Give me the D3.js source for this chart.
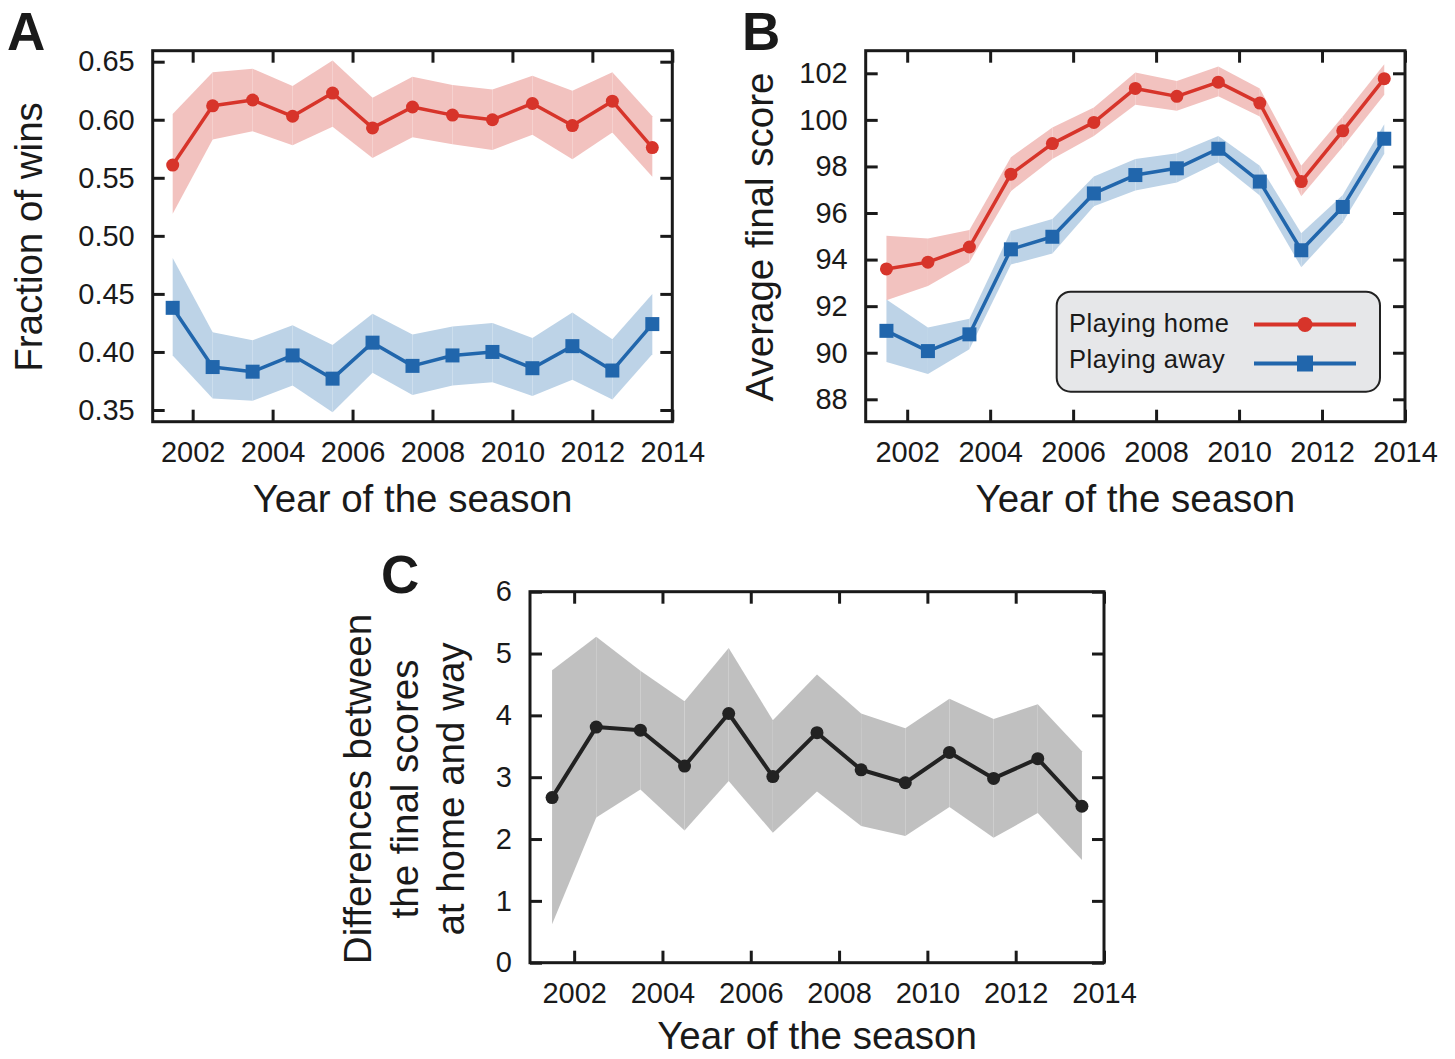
<!DOCTYPE html>
<html>
<head>
<meta charset="utf-8">
<script src="https://cdn.jsdelivr.net/npm/d3@7"></script>
<style>
  html, body { margin: 0; padding: 0; background: #ffffff; }
  svg { display: block; }
  text { font-family: "Liberation Sans", Arial, Helvetica, sans-serif; fill: #1a1a1a; }
</style>
</head>
<body>
<svg id="chart" width="1455" height="1059"></svg>
<script>
// ---------------- data ----------------
const seasons = [2001.5, 2002.5, 2003.5, 2004.5, 2005.5, 2006.5, 2007.5, 2008.5, 2009.5, 2010.5, 2011.5, 2012.5, 2013.5];
const xTickValues = [2002, 2004, 2006, 2008, 2010, 2012, 2014];

// Panel A: fraction of wins
const winsHome      = [0.561, 0.612, 0.617, 0.603, 0.623, 0.593, 0.611, 0.604, 0.600, 0.614, 0.595, 0.616, 0.576];
const winsHomeHigh  = [0.605, 0.641, 0.644, 0.629, 0.651, 0.619, 0.637, 0.630, 0.626, 0.638, 0.625, 0.641, 0.603];
const winsHomeLow   = [0.519, 0.583, 0.590, 0.578, 0.594, 0.567, 0.585, 0.579, 0.574, 0.587, 0.566, 0.589, 0.551];
const winsAway      = [0.438, 0.387, 0.383, 0.397, 0.377, 0.408, 0.388, 0.397, 0.400, 0.386, 0.405, 0.384, 0.424];
const winsAwayHigh  = [0.481, 0.417, 0.410, 0.423, 0.406, 0.433, 0.415, 0.422, 0.425, 0.412, 0.434, 0.411, 0.450];
const winsAwayLow   = [0.397, 0.360, 0.358, 0.371, 0.348, 0.382, 0.363, 0.371, 0.374, 0.362, 0.376, 0.359, 0.398];
const winsTicks     = [0.35, 0.40, 0.45, 0.50, 0.55, 0.60, 0.65];

// Panel B: average final score
const scoreHome     = [93.60, 93.89, 94.54, 97.67, 98.98, 99.89, 101.35, 101.01, 101.62, 100.72, 97.35, 99.53, 101.77];
const scoreHomeHigh = [95.02, 94.91, 95.27, 98.40, 99.67, 100.53, 102.03, 101.67, 102.29, 101.35, 98.03, 100.14, 102.39];
const scoreHomeLow  = [92.25, 92.87, 93.89, 96.94, 98.32, 99.31, 100.65, 100.39, 101.01, 100.14, 96.72, 98.83, 101.08];
const scoreAway     = [90.94, 90.07, 90.79, 94.44, 94.98, 96.84, 97.63, 97.92, 98.76, 97.35, 94.40, 96.26, 99.19];
const scoreAwayHigh = [92.29, 91.08, 91.46, 95.23, 95.74, 97.57, 98.32, 98.57, 99.31, 98.03, 95.13, 96.77, 99.81];
const scoreAwayLow  = [89.60, 89.09, 90.15, 93.79, 94.26, 96.29, 96.97, 97.31, 98.18, 96.75, 93.67, 95.60, 98.54];
const scoreTicks    = [88, 90, 92, 94, 96, 98, 100, 102];

// Panel C: difference home - away
const diff      = [2.67, 3.81, 3.76, 3.18, 4.03, 3.01, 3.72, 3.12, 2.91, 3.40, 2.98, 3.30, 2.53];
const diffHigh  = [4.73, 5.27, 4.72, 4.23, 5.09, 3.92, 4.66, 4.03, 3.79, 4.27, 3.94, 4.18, 3.42];
const diffLow   = [0.62, 2.35, 2.80, 2.14, 2.94, 2.10, 2.77, 2.21, 2.05, 2.52, 2.02, 2.42, 1.66];
const diffTicks = [0, 1, 2, 3, 4, 5, 6];

const legendLabels = ["Playing home", "Playing away"];

// ---------------- styles ----------------
const RED = "#d7342a", RED_BAND = "#f2c2bf";
const BLUE = "#2166ac", BLUE_BAND = "#bdd3e7";
const DARK = "#222222", GRAY_BAND = "#c0c0c0";
const INK = "#1a1a1a";

const svg = d3.select("#chart");

function makePanel(cfg) {
  const g = svg.append("g");
  const x = d3.scaleLinear().domain([2001, 2014]).range([cfg.x0, cfg.x1]);
  const y = d3.scaleLinear().domain(cfg.yDomain).range(cfg.yRange);

  // bands & lines
  cfg.series.forEach(s => {
    const pts = seasons.map((yr, i) => ({ x: yr, v: s.values[i], lo: s.low[i], hi: s.high[i] }));
    const area = d3.area().x(d => x(d.x)).y0(d => y(d.lo)).y1(d => y(d.hi));
    for (let i = 0; i < pts.length - 1; i++) {
      g.append("path").attr("d", area([pts[i], pts[i + 1]]))
        .attr("fill", s.band).attr("stroke", "none");
    }
  });
  cfg.series.forEach(s => {
    const pts = seasons.map((yr, i) => ({ x: yr, v: s.values[i] }));
    g.append("path")
      .attr("d", d3.line().x(d => x(d.x)).y(d => y(d.v))(pts))
      .attr("fill", "none").attr("stroke", s.color)
      .attr("stroke-width", s.lw).attr("stroke-linejoin", "round");
    if (s.marker === "square") {
      g.selectAll(null).data(pts).enter().append("rect")
        .attr("x", d => x(d.x) - s.size / 2).attr("y", d => y(d.v) - s.size / 2)
        .attr("width", s.size).attr("height", s.size).attr("fill", s.color);
    } else {
      g.selectAll(null).data(pts).enter().append("circle")
        .attr("cx", d => x(d.x)).attr("cy", d => y(d.v)).attr("r", s.size)
        .attr("fill", s.color);
    }
  });

  const top = cfg.frameTop, bottom = cfg.frameBottom;
  const tl = 12;
  const fs = 29;

  // bottom axis
  const xb = g.append("g").attr("transform", `translate(0,${bottom})`)
    .call(d3.axisBottom(x).tickValues(xTickValues).tickFormat(d3.format("d"))
      .tickSizeInner(-tl).tickSizeOuter(0).tickPadding(20));
  // top axis
  const xt = g.append("g").attr("transform", `translate(0,${top})`)
    .call(d3.axisTop(x).tickValues(xTickValues).tickFormat("")
      .tickSizeInner(-tl).tickSizeOuter(0));
  // left axis
  const yl = g.append("g").attr("transform", `translate(${cfg.x0},0)`)
    .call(d3.axisLeft(y).tickValues(cfg.yTicks).tickFormat(d3.format(cfg.yFormat))
      .tickSizeInner(-tl).tickSizeOuter(0).tickPadding(18));
  // right axis
  const yr = g.append("g").attr("transform", `translate(${cfg.x1},0)`)
    .call(d3.axisRight(y).tickValues(cfg.yTicks).tickFormat("")
      .tickSizeInner(-tl).tickSizeOuter(0));

  [xb, xt, yl, yr].forEach(a => {
    a.select(".domain").remove();
    a.selectAll(".tick line").attr("stroke", INK).attr("stroke-width", 3);
    a.selectAll(".tick text").attr("font-size", fs)
      .attr("font-family", '"Liberation Sans", Arial, Helvetica, sans-serif')
      .attr("fill", INK);
  });

  // frame
  g.append("rect").attr("x", cfg.x0).attr("y", top)
    .attr("width", cfg.x1 - cfg.x0).attr("height", bottom - top)
    .attr("fill", "none").attr("stroke", INK).attr("stroke-width", 3);

  // x title
  g.append("text").attr("x", (cfg.x0 + cfg.x1) / 2).attr("y", bottom + cfg.xTitleOffset)
    .attr("text-anchor", "middle").attr("font-size", 38.5).text("Year of the season");

  // y title
  cfg.yTitle.forEach((line, i) => {
    g.append("text")
      .attr("transform", `translate(${cfg.yTitleX[i]},${cfg.yTitleY}) rotate(-90)`)
      .attr("text-anchor", "middle").attr("font-size", 38.5).text(line);
  });

  // panel letter
  g.append("text").attr("x", cfg.letterX).attr("y", cfg.letterY)
    .attr("font-size", 53).attr("font-weight", "bold").text(cfg.letter);

  return { g, x, y };
}

makePanel({
  x0: 152.7, x1: 672.3, frameTop: 50.7, frameBottom: 421.7, xTitleOffset: 90,
  yDomain: [0.35, 0.65], yRange: [410, 61.7], yTicks: winsTicks, yFormat: ".2f",
  yTitle: ["Fraction of wins"], yTitleX: [41.5], yTitleY: 237,
  letter: "A", letterX: 7, letterY: 50,
  series: [
    { values: winsHome, low: winsHomeLow, high: winsHomeHigh, color: RED, band: RED_BAND, marker: "circle", size: 6.5, lw: 3.5 },
    { values: winsAway, low: winsAwayLow, high: winsAwayHigh, color: BLUE, band: BLUE_BAND, marker: "square", size: 14, lw: 3.5 }
  ]
});

const pB = makePanel({
  x0: 865.7, x1: 1405, frameTop: 50.7, frameBottom: 421.7, xTitleOffset: 90,
  yDomain: [88, 102], yRange: [399.3, 73.3], yTicks: scoreTicks, yFormat: "d",
  yTitle: ["Average final score"], yTitleX: [773], yTitleY: 237,
  letter: "B", letterX: 742, letterY: 50,
  series: [
    { values: scoreHome, low: scoreHomeLow, high: scoreHomeHigh, color: RED, band: RED_BAND, marker: "circle", size: 6.5, lw: 3.5 },
    { values: scoreAway, low: scoreAwayLow, high: scoreAwayHigh, color: BLUE, band: BLUE_BAND, marker: "square", size: 14, lw: 3.5 }
  ]
});

makePanel({
  x0: 530, x1: 1104, frameTop: 591.7, frameBottom: 962.7, xTitleOffset: 86,
  yDomain: [0, 6], yRange: [962.7, 591.7], yTicks: diffTicks, yFormat: "d",
  yTitle: ["Differences between", "the final scores", "at home and way"],
  yTitleX: [371, 418, 464], yTitleY: 789,
  letter: "C", letterX: 381, letterY: 593,
  series: [
    { values: diff, low: diffLow, high: diffHigh, color: DARK, band: GRAY_BAND, marker: "circle", size: 6.5, lw: 4 }
  ]
});

// ---------------- legend (panel B) ----------------
const lg = pB.g.append("g");
lg.append("rect").attr("x", 1056.7).attr("y", 291.7).attr("width", 323.3).attr("height", 100)
  .attr("rx", 14).attr("ry", 14)
  .attr("fill", "#e6e7e9").attr("stroke", "#222").attr("stroke-width", 2);
const legItems = [
  { label: legendLabels[0], color: RED, marker: "circle", ty: 332, ly: 324.5 },
  { label: legendLabels[1], color: BLUE, marker: "square", ty: 368, ly: 363.5 }
];
legItems.forEach(it => {
  lg.append("text").attr("x", 1069).attr("y", it.ty).attr("font-size", 25.5)
    .attr("letter-spacing", 0.5).text(it.label);
  lg.append("line").attr("x1", 1254).attr("x2", 1356).attr("y1", it.ly).attr("y2", it.ly)
    .attr("stroke", it.color).attr("stroke-width", 4);
  if (it.marker === "circle") {
    lg.append("circle").attr("cx", 1305).attr("cy", it.ly).attr("r", 7.5).attr("fill", it.color);
  } else {
    lg.append("rect").attr("x", 1305 - 8).attr("y", it.ly - 8).attr("width", 16).attr("height", 16)
      .attr("fill", it.color);
  }
});
</script>
</body>
</html>
